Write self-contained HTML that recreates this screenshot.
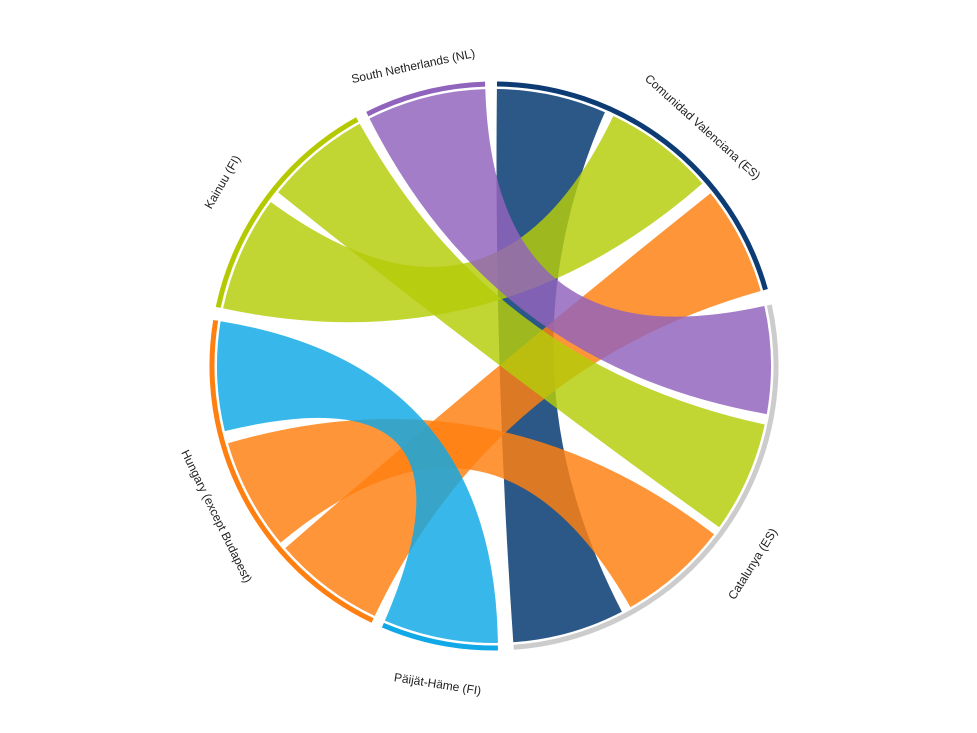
<!DOCTYPE html>
<html><head><meta charset="utf-8"><style>
html,body{margin:0;padding:0;background:#fff;}
svg{display:block;font-family:"Liberation Sans",sans-serif;}
</style></head><body>
<svg id="s" width="977" height="733" viewBox="0 0 977 733">
<g id="rib"></g><g id="arcs"></g>
<g font-size="12" fill="#222" text-anchor="middle">
<text transform="translate(414,70) rotate(-12)">South Netherlands (NL)</text>
<text transform="translate(700,130) rotate(42)">Comunidad Valenciana (ES)</text>
<text transform="translate(226,184) rotate(-60)">Kainuu (FI)</text>
<text transform="translate(213,518) rotate(64)">Hungary (except Budapest)</text>
<text transform="translate(437,688) rotate(9)">Päijät-Häme (FI)</text>
<text transform="translate(756,566) rotate(-58)">Catalunya (ES)</text>
</g>
</svg>
<script>
var cx=494,cy=366,R=277,RO=282;
function p(a,r){var t=a*Math.PI/180;return [(cx+r*Math.sin(t)).toFixed(1),(cy-r*Math.cos(t)).toFixed(1)];}
function arc(a1,a2,r){var e=p(a2,r);return "A"+r+" "+r+" 0 "+((a2-a1)>180?1:0)+" 1 "+e[0]+" "+e[1];}
var ribs=[
[0.6,23.6,152.5,176,"#00366f"],
[25.5,48.8,282,306.3,"#b5cc0a"],
[51.4,74.3,205.5,228.9,"#ff7f11"],
[77.5,100,333.3,358.2,"#9263bd"],
[102.2,125.6,308.8,331,"#b5cc0a"],
[127.4,150.5,230.4,253.8,"#ff7f11"],
[179.2,203.2,256.4,279.3,"#10a8e6"]];
var h="";
ribs.forEach(function(r){var a=p(r[0],R),b=p(r[2],R);
h+='<path d="M'+a+' '+arc(r[0],r[1],R)+' Q'+cx+' '+cy+' '+b+' '+arc(r[2],r[3],R)+' Q'+cx+' '+cy+' '+a+'Z" fill="'+r[4]+'" fill-opacity="0.83"/>';});
document.getElementById("rib").innerHTML=h;
var groups=[[0.6,74.3,"#0d3b73"],[77.5,176,"#cccccc"],[179.2,203.2,"#10a8e6"],[205.5,279.3,"#ff7f11"],[282,331,"#b5c900"],[333.3,358.2,"#9063bd"]];
h="";
groups.forEach(function(g){var a=p(g[0],RO);h+='<path d="M'+a+' '+arc(g[0],g[1],RO)+'" fill="none" stroke="'+g[2]+'" stroke-width="5"/>';});
document.getElementById("arcs").innerHTML=h;
</script>
</body></html>
